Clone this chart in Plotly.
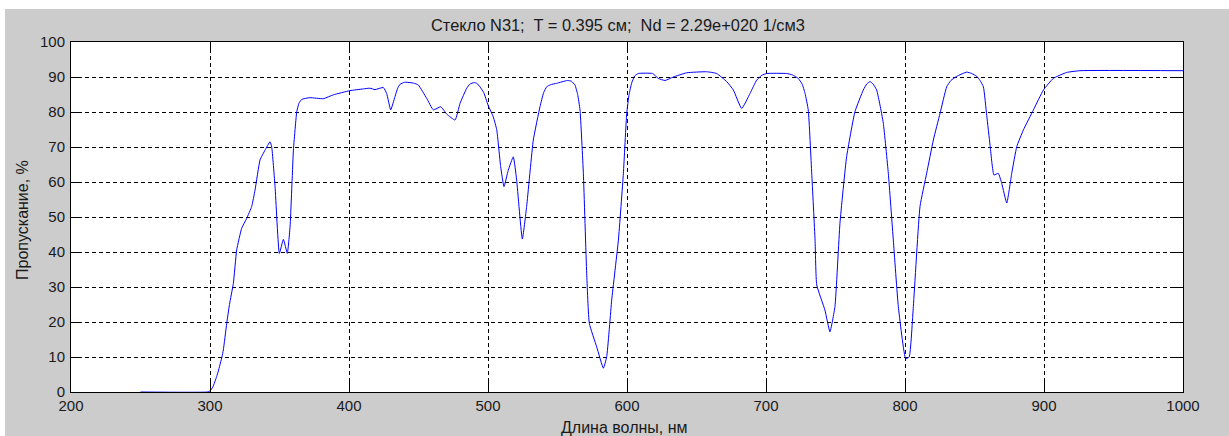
import plotly.graph_objects as go

wavelength = [250, 298, 300, 302, 304.8, 306, 308.6, 309.6, 312, 314, 316.8, 319.2,
              322.8, 326.4, 330, 332.4, 336, 339.6, 343.2, 344.4, 346.8, 349.9,
              352.8, 355.6, 357.6, 360, 361.2, 362.4, 364, 366, 371.9, 381.5, 388.7, 400.7,
              410.3, 415.1, 418.7, 424.7, 427.1, 430, 433.1, 435, 436.7, 440, 443.9, 447, 449.9,
              455.9, 460.7, 466, 470.3, 476.3, 479.9, 484.7, 487, 490, 492, 494.2, 497, 500,
              503.8, 506.3, 509.1, 511.5, 514.6, 518.2, 520.6, 524.7, 527.8, 532.6,
              537.4, 540, 542.2, 545, 549.4, 557.1, 560, 562.6, 564.5, 566.2, 568.6, 571, 572.9, 578.2,
              583, 585.4, 589, 593.8, 597.4, 599.8, 601.5, 603.3, 605.5, 608.1, 618.4, 622.5,
              627.3, 633.3, 642.9, 657.3, 664.5, 671.7, 676.5, 682.5, 688.5, 693.3, 697,
              700.5, 714.9, 719, 723.2, 726, 728.1, 730.4, 732.9, 735.3, 736.5, 742.4, 746,
              749.6, 753.2, 758, 764, 770, 772.5, 774.8, 777, 779.6, 782, 784.4, 788, 791.6,
              795.2, 800.5, 803, 806, 810.8, 815.6, 820.4, 825.2, 830, 833, 837.2,
              844.4, 848, 851.6, 854, 856.4, 858.8, 861.2, 864, 867.1, 869.6, 873.2, 876.8,
              880.4, 885.2, 892.4, 899.6, 906.7, 916.3, 925.9, 1000]
transmission = [0, 0, 0.3, 1.4, 4.4, 6, 10, 12, 19.5, 25, 31, 40.6,
                46.8, 49.6, 53, 57.7, 66.3, 69.1, 71.5, 70, 58.7, 39.6,
                43.6, 39.6, 47.2, 69.1, 75, 80.1, 82.5, 83.6, 84.1, 83.8, 84.9, 86.1,
                86.6, 86.8, 86.4, 87, 85.3, 80.6, 84.4, 86.8, 87.9, 88.5, 88.4, 88.2, 87.7,
                83.9, 80.6, 81.5, 79.4, 77.7, 82.5, 86.8, 88, 88.4, 88.2, 87.2, 85.5, 82,
                78.6, 74.9, 64.4, 58.7, 63.4, 67.2, 60.6, 43.7, 53, 72,
                81.5, 85.5, 87.2, 87.8, 88.2, 89, 88.8, 87.7, 85, 80.6, 62.5, 33.9, 19.6, 12.9,
                6.8, 10.1, 26.3, 43.4, 62.5, 79.6, 85, 88.2, 90.3, 91, 91, 89.6,
                89, 90, 91.2, 91.5, 91, 88.7, 86.3, 81, 85.3, 89.1, 90.5,
                91, 91, 90.6, 89.6, 88, 85.3, 80.6, 62.5, 43.4, 30.6, 23.4, 17.2,
                24.4, 48.2, 67.2, 80.1, 86.3, 88, 88.7, 88, 86.3, 82, 76.8, 62.5, 43.4,
                24.4, 9.5, 10, 24.4, 53, 62.5, 72, 79.6, 87.2, 89, 90.2,
                91.4, 91, 90.2, 89, 87.2, 79, 70.5, 62, 62.5, 59.6, 54, 62.5,
                70.1, 74.9, 80.6, 86.3, 89.6, 91.3, 91.8, 91.8]

x_ticks = [200, 300, 400, 500, 600, 700, 800, 900, 1000]
y_ticks = [0, 10, 20, 30, 40, 50, 60, 70, 80, 90, 100]

title_text = "Стекло N31;  T = 0.395 см;  Nd = 2.29e+020 1/см3"
x_label = "Длина волны, нм"
y_label = "Пропускание, %"

W, H = 1229, 436
L, R, T, B = 71, 46, 42, 44
pw, ph = W - L - R, H - T - B

FONT = "Liberation Sans, Arial, sans-serif"
GRAY = "#cccccc"
TXT = "#1a1a1a"

fig = go.Figure()
fig.add_trace(go.Scatter(x=wavelength, y=transmission, mode="lines",
                         line=dict(color="#0000ff", width=1, shape="spline", smoothing=0.4),
                         hoverinfo="skip", showlegend=False))

axis_common = dict(showline=True, linecolor="black", linewidth=1, mirror="ticks",
                   ticks="inside", ticklen=11, tickcolor="black", tickwidth=1,
                   showgrid=True, gridcolor="black", gridwidth=1, griddash="4px,3px",
                   zeroline=False, tickfont=dict(family=FONT, size=15, color=TXT))

fig.update_xaxes(range=[200, 1000], tickvals=x_ticks, **axis_common)
fig.update_yaxes(range=[0, 100], tickvals=y_ticks, ticklabelstandoff=2, **axis_common)


def px_x(px):
    return (px - L) / pw


def px_y(py):
    return (H - B - py) / ph


annotations = [
    dict(text=title_text, x=px_x(618), y=px_y(25), xref="paper", yref="paper",
         showarrow=False, font=dict(family=FONT, size=16.4, color=TXT),
         xanchor="center", yanchor="middle"),
    dict(text=x_label, x=px_x(624), y=px_y(428), xref="paper", yref="paper",
         showarrow=False, font=dict(family=FONT, size=16, color=TXT),
         xanchor="center", yanchor="middle"),
    dict(text=y_label, x=px_x(22), y=px_y(220), xref="paper", yref="paper",
         showarrow=False, textangle=-90, font=dict(family=FONT, size=16, color=TXT),
         xanchor="center", yanchor="middle"),
]

shapes = [
    dict(type="rect", xref="paper", yref="paper", x0=px_x(-2), x1=px_x(5),
         y0=px_y(440), y1=px_y(-2), fillcolor="white", line=dict(width=0), layer="below"),
    dict(type="rect", xref="paper", yref="paper", x0=px_x(-2), x1=px_x(1232),
         y0=px_y(9), y1=px_y(-2), fillcolor="white", line=dict(width=0), layer="below"),
]

fig.update_layout(width=W, height=H, margin=dict(l=L, r=R, t=T, b=B, autoexpand=False),
                  paper_bgcolor=GRAY, plot_bgcolor="white",
                  annotations=annotations, shapes=shapes)

fig.write_html("out.html", config={"displayModeBar": False})
